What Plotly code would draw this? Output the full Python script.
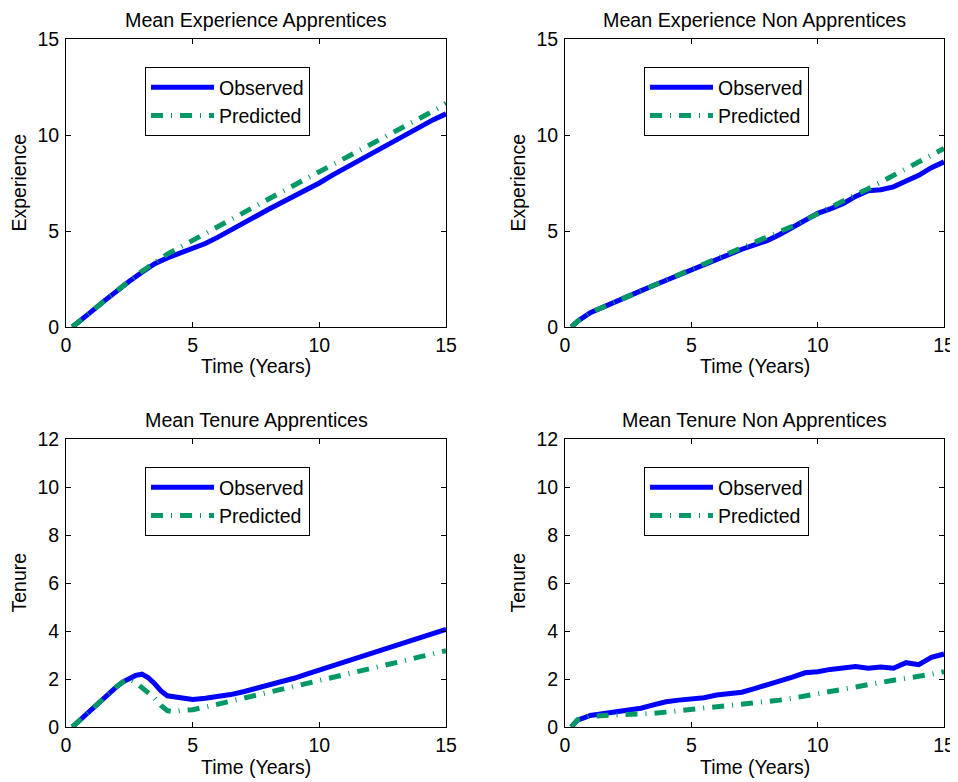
import plotly.graph_objects as go

# ---------------- data ----------------
t = [0.25, 0.5, 1.0, 1.5, 2.0, 2.5, 3.0, 3.5, 4.0, 4.5, 5.0, 5.5, 6.0, 6.5, 7.0, 7.5,
     8.0, 8.5, 9.0, 9.5, 10.0, 10.5, 11.0, 11.5, 12.0, 12.5, 13.0, 13.5, 14.0, 14.5, 15.0]

exp_app_obs = [0.0, 0.25, 0.8, 1.35, 1.88, 2.38, 2.85, 3.3, 3.6, 3.85, 4.05, 4.35, 4.68, 5.02,
               5.4, 5.77, 6.13, 6.47, 6.8, 7.15, 7.5, 7.9, 8.27, 8.6, 8.95, 9.35, 9.73, 10.08,
               10.43, 10.8, 11.1]
exp_app_pred = [0.0, 0.25, 0.8, 1.35, 1.9, 2.4, 2.9, 3.35, 3.8, 4.15, 4.5, 4.85, 5.2, 5.57,
                5.93, 6.3, 6.67, 7.03, 7.38, 7.72, 8.05, 8.4, 8.75, 9.1, 9.45, 9.8, 10.15, 10.5,
                10.88, 11.25, 11.65]

exp_non_obs = [0.0, 0.3, 0.75, 1.05, 1.32, 1.6, 1.88, 2.16, 2.44, 2.72, 3.0, 3.27, 3.55, 3.8,
               4.05, 4.28, 4.5, 4.82, 5.2, 5.58, 5.92, 6.15, 6.42, 6.8, 7.1, 7.15, 7.3, 7.6,
               7.9, 8.3, 8.6]
exp_non_pred = [0.0, 0.3, 0.75, 1.05, 1.32, 1.6, 1.88, 2.16, 2.44, 2.72, 3.0, 3.27, 3.55, 3.82,
                4.1, 4.38, 4.65, 4.95, 5.25, 5.58, 5.9, 6.2, 6.5, 6.85, 7.2, 7.55, 7.9, 8.25,
                8.6, 8.95, 9.3]

t_ten_app = [0.25, 0.5, 1.0, 1.5, 2.0, 2.25, 2.5, 2.75, 3.0, 3.25, 3.5, 3.75, 4.0, 4.25, 4.5,
             5.0, 5.5, 6.0, 6.5, 7.0, 7.5, 8.0, 8.5, 9.0, 9.5, 10.0, 10.5, 11.0, 11.5, 12.0,
             12.5, 13.0, 13.5, 14.0, 14.5, 15.0]
ten_app_obs = [0.0, 0.25, 0.72, 1.2, 1.68, 1.88, 2.03, 2.15, 2.2, 2.05, 1.8, 1.5, 1.3, 1.25,
               1.22, 1.15, 1.2, 1.25, 1.35, 1.47, 1.6, 1.75, 1.88, 2.03, 2.2, 2.37, 2.55, 2.72,
               2.9, 3.07, 3.22, 3.38, 3.57, 3.74, 3.9, 4.07]
ten_app_pred = [0.0, 0.25, 0.72, 1.2, 1.68, 1.88, 2.0, 1.85, 1.6, 1.42, 1.2, 0.9, 0.68, 0.64,
                0.68, 0.72, 0.83, 0.95, 1.08, 1.2, 1.32, 1.45, 1.58, 1.7, 1.82, 1.94, 2.06,
                2.19, 2.31, 2.44, 2.56, 2.68, 2.8, 2.93, 3.05, 3.18]

ten_non_obs = [0.0, 0.29, 0.48, 0.55, 0.65, 0.72, 0.78, 0.92, 1.05, 1.12, 1.15, 1.22, 1.33, 1.4,
               1.45, 1.6, 1.75, 1.92, 2.08, 2.26, 2.3, 2.4, 2.46, 2.52, 2.45, 2.5, 2.45, 2.68,
               2.6, 2.9, 3.04]
ten_non_pred = [0.0, 0.3, 0.45, 0.47, 0.48, 0.49, 0.52, 0.57, 0.62, 0.67, 0.72, 0.77, 0.82, 0.87,
                0.92, 0.98, 1.05, 1.12, 1.2, 1.3, 1.4, 1.5, 1.6, 1.7, 1.8, 1.88, 1.95, 2.03,
                2.1, 2.2, 2.3]

titles = ["Mean Experience Apprentices", "Mean Experience Non Apprentices",
          "Mean Tenure Apprentices", "Mean Tenure Non Apprentices"]
ylabels = ["Experience", "Experience", "Tenure", "Tenure"]
xlabel = "Time (Years)"
series_names = ["Observed", "Predicted"]
x_ticks = [0, 5, 10, 15]
y_ticks_exp = [0, 5, 10, 15]
y_ticks_ten = [0, 2, 4, 6, 8, 10, 12]

# ---------------- style ----------------
OFF = 8                      # page body margin in the browser
W, H = 958 - OFF, 782 - OFF  # figure size so the page fits the window
FONT = "Liberation Sans, Arial, sans-serif"
FS = 19.5
BLUE = "rgb(0,0,255)"
GREEN = "rgb(0,153,102)"

panels = [
    (t, exp_app_obs, exp_app_pred, [0, 15], y_ticks_exp),
    (t, exp_non_obs, exp_non_pred, [0, 15], y_ticks_exp),
    (t_ten_app, ten_app_obs, ten_app_pred, [0, 12], y_ticks_ten),
    (t, ten_non_obs, ten_non_pred, [0, 12], y_ticks_ten),
]

# pixel boxes of plot areas in window pixels (left, right, top, bottom)
col_x = [(66, 446), (565, 944)]
row_y = [(39, 327), (439, 727)]


def px(x):
    return (x - OFF) / W


def py(y):
    return 1 - (y - OFF) / H


fig = go.Figure()
annotations = []
layout = dict(
    template="none",
    width=W, height=H,
    margin=dict(l=0, r=0, t=0, b=0, autoexpand=False),
    paper_bgcolor="white", plot_bgcolor="white",
    font=dict(family=FONT, size=FS, color="black"),
    showlegend=True,
)

for i, (tx, obs, pred, yr, yt) in enumerate(panels):
    r, c = divmod(i, 2)
    x0, x1 = col_x[c]
    y0, y1 = row_y[r]
    sfx = "" if i == 0 else str(i + 1)
    leg = "legend" if i == 0 else "legend%d" % (i + 1)
    xa = "x" + sfx
    ya = "y" + sfx
    fig.add_trace(go.Scatter(x=tx, y=obs, mode="lines", name=series_names[0],
                             line=dict(color=BLUE, width=5), xaxis=xa, yaxis=ya,
                             legend=leg))
    fig.add_trace(go.Scatter(x=tx, y=pred, mode="lines", name=series_names[1],
                             line=dict(color=GREEN, width=5, dash="12px,8px,1px,8px"),
                             xaxis=xa, yaxis=ya, legend=leg))
    axcommon = dict(showline=True, linecolor="black", linewidth=1, mirror="ticks",
                    ticks="inside", ticklen=5, tickcolor="black", tickwidth=1,
                    showgrid=False, zeroline=False, automargin=False,
                    tickfont=dict(family=FONT, size=FS, color="black"))
    layout["xaxis" + sfx] = dict(axcommon, domain=[px(x0), px(x1)], range=[0, 15],
                                 tickvals=x_ticks, anchor=ya, ticklabelstandoff=1)
    layout["yaxis" + sfx] = dict(axcommon, domain=[py(y1), py(y0)], range=yr,
                                 tickvals=yt, anchor=xa, ticklabelstandoff=2)
    layout[leg] = dict(x=px(x0 + 79), y=py(y0 + 28), xanchor="left", yanchor="top",
                       bgcolor="white", bordercolor="black", borderwidth=1,
                       font=dict(family=FONT, size=FS, color="black"), itemwidth=63)
    cx = px((x0 + x1) / 2)
    annotations.append(dict(text=titles[i], x=cx, y=py(y0 - 31), xref="paper",
                            yref="paper", showarrow=False, xanchor="center", yanchor="top",
                            borderpad=0,
                            font=dict(family=FONT, size=FS + 0.2, color="black")))
    annotations.append(dict(text=xlabel, x=cx, y=py(y1 + 39.5), xref="paper",
                            yref="paper", showarrow=False, xanchor="center", yanchor="middle",
                            font=dict(family=FONT, size=FS, color="black")))
    annotations.append(dict(text=ylabels[i], x=px(x0 - 47.5), y=py((y0 + y1) / 2),
                            xref="paper", yref="paper", showarrow=False, textangle=-90,
                            xanchor="center", yanchor="middle",
                            font=dict(family=FONT, size=FS, color="black")))

layout["annotations"] = annotations
fig.update_layout(**layout)
fig.write_html("out.html")
